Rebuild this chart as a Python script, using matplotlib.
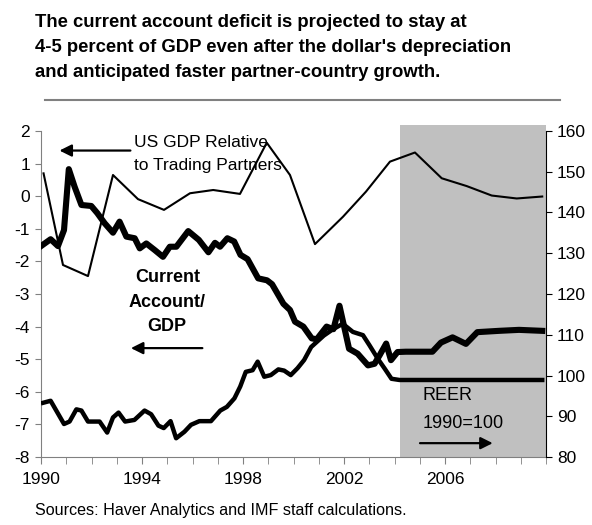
import numpy as np
import matplotlib
matplotlib.use("Agg")
import matplotlib.pyplot as plt
from matplotlib.patches import Rectangle

plt.rcParams['font.family'] = ['Liberation Sans', 'DejaVu Sans']
plt.rcParams['axes.unicode_minus'] = False

# 1. Data
# Current account / GDP (percent, left axis), quarterly-ish
ca_years = [1990.0, 1990.38, 1990.67, 1990.91, 1991.1, 1991.33, 1991.6, 1991.99,
            1992.23, 1992.52, 1992.85, 1993.11, 1993.38, 1993.71, 1993.91, 1994.17,
            1994.5, 1994.83, 1995.1, 1995.36, 1995.83, 1996.25, 1996.63, 1996.89,
            1997.09, 1997.38, 1997.65, 1997.9, 1998.18, 1998.6, 1998.95, 1999.15,
            1999.6, 1999.86, 2000.06, 2000.39, 2000.72, 2000.92, 2001.31, 2001.58,
            2001.82, 2002.2, 2002.54, 2002.95, 2003.21, 2003.41, 2003.67, 2003.86,
            2004.12, 2004.45, 2005.5, 2005.84, 2006.3, 2006.83, 2007.28, 2008.14,
            2008.93, 2009.85]
ca_values = [-1.53, -1.32, -1.53, -1.04, 0.83, 0.29, -0.27, -0.30,
             -0.52, -0.83, -1.12, -0.78, -1.24, -1.29, -1.60, -1.45,
             -1.65, -1.86, -1.55, -1.55, -1.07, -1.34, -1.72, -1.43,
             -1.55, -1.29, -1.39, -1.80, -1.93, -2.52, -2.58, -2.70,
             -3.30, -3.49, -3.85, -4.00, -4.36, -4.39, -4.00, -4.08,
             -3.36, -4.68, -4.83, -5.19, -5.14, -4.88, -4.52, -5.03,
             -4.78, -4.77, -4.77, -4.49, -4.33, -4.53, -4.17, -4.13,
             -4.10, -4.13]

# REER, 1990=100 (right axis)
reer_years = [1990.08, 1990.38, 1990.91, 1991.13, 1991.4, 1991.6, 1991.86, 1992.32,
              1992.62, 1992.85, 1993.07, 1993.33, 1993.7, 1994.1, 1994.36, 1994.65,
              1994.86, 1995.13, 1995.35, 1995.68, 1995.94, 1996.27, 1996.73, 1997.1,
              1997.36, 1997.66, 1997.89, 1998.11, 1998.38, 1998.58, 1998.84, 1999.1,
              1999.4, 1999.63, 1999.89, 2000.16, 2000.42, 2000.7, 2001.2, 2001.55,
              2001.95, 2002.35, 2002.75, 2003.01, 2003.34, 2003.61, 2003.88, 2004.2,
              2009.85]
reer_values = [93.3, 93.8, 88.1, 88.7, 91.7, 91.4, 88.7, 88.7,
               86.0, 89.7, 90.9, 88.7, 89.1, 91.4, 90.5, 87.7,
               87.1, 88.8, 84.6, 86.2, 87.9, 88.8, 88.8, 91.4,
               92.3, 94.4, 97.3, 100.9, 101.3, 103.4, 99.7, 100.1,
               101.5, 101.2, 100.1, 101.8, 103.8, 107.0, 109.8, 111.3,
               112.7, 110.7, 109.9, 107.4, 104.1, 101.7, 99.2, 98.9,
               98.9]

# US GDP relative to trading partners (left axis), annual
gdp_years = [1990.1, 1990.87, 1991.86, 1992.85, 1993.84, 1994.87, 1995.9, 1996.82,
             1997.88, 1998.94, 1999.86, 2000.85, 2001.96, 2002.87, 2003.82, 2004.81,
             2005.87, 2006.86, 2007.85, 2008.84, 2009.85]
gdp_values = [0.70, -2.11, -2.45, 0.65, -0.09, -0.42, 0.09, 0.19,
              0.07, 1.64, 0.65, -1.47, -0.63, 0.14, 1.06, 1.34,
              0.55, 0.31, 0.02, -0.07, -0.01]

projection_start = 2004.2
x_ticks = [1990, 1994, 1998, 2002, 2006]
title = ("The current account deficit is projected to stay at\n"
         "4-5 percent of GDP even after the dollar's depreciation\n"
         "and anticipated faster partner-country growth.")

# 2. Figure
fig = plt.figure(figsize=(5.92, 5.25), dpi=100)
ax = fig.add_axes([0.0693, 0.1295, 0.853, 0.621])
ax2 = ax.twinx()

# projection shading (sticks up a bit past the top, like the original)
ax.add_patch(Rectangle((projection_start, 0), 2010 - projection_start, 1.018,
                       transform=ax.get_xaxis_transform(), facecolor='#c0c0c0',
                       edgecolor='none', clip_on=False, zorder=0))

ax.plot(gdp_years, gdp_values, color='black', linewidth=1.5, zorder=3)
ax.plot(ca_years, ca_values, color='black', linewidth=4.4, zorder=4,
        solid_joinstyle='round')
ax2.plot(reer_years, reer_values, color='black', linewidth=3.2, zorder=3,
         solid_joinstyle='round')

ax.set_xlim(1990, 2010)
ax.set_ylim(-8, 2)
ax2.set_ylim(80, 160)
ax.set_yticks(np.arange(-8, 3, 1))
ax2.set_yticks(np.arange(80, 161, 10))
ax.set_xticks(x_ticks)
ax.set_xticks(np.arange(1990, 2011, 1), minor=True)

for a in (ax, ax2):
    a.spines['top'].set_visible(False)
ax.spines['right'].set_visible(False)
ax.spines['left'].set_color('#808080')
ax.spines['bottom'].set_color('#808080')
ax2.spines['left'].set_visible(False)
ax2.spines['bottom'].set_visible(False)
ax2.spines['right'].set_color('black')

ax.tick_params(axis='y', direction='out', length=4, color='#808080',
               labelsize=12.5, pad=4)
ax.tick_params(axis='x', which='both', direction='out', length=5,
               color='#808080', labelsize=12.5, pad=6)
ax2.tick_params(axis='y', direction='out', length=4, labelsize=12.5, pad=4)

# 3. Annotations
ax.text(1993.7, 1.29, "US GDP Relative\nto Trading Partners", fontsize=12.5,
        ha='left', va='center', linespacing=1.65, zorder=5)
ax.annotate("", xy=(1990.62, 1.40), xytext=(1993.65, 1.40),
            arrowprops=dict(arrowstyle='-|>', color='black', lw=1.6,
                            mutation_scale=18))
ax.text(1995.0, -3.25, "Current\nAccount/\nGDP", fontsize=13,
        fontweight='bold', ha='center', va='center', linespacing=1.57, zorder=5)
ax.annotate("", xy=(1993.45, -4.66), xytext=(1996.5, -4.66),
            arrowprops=dict(arrowstyle='-|>', color='black', lw=1.6,
                            mutation_scale=18))
ax2.text(2005.1, 95.2, "REER", fontsize=13, ha='left', va='center')
ax2.text(2005.1, 88.3, "1990=100", fontsize=13, ha='left', va='center')
ax2.annotate("", xy=(2008.0, 83.4), xytext=(2004.9, 83.4),
             arrowprops=dict(arrowstyle='-|>', color='black', lw=1.6,
                             mutation_scale=18))

# title, rule and source
fig.text(35 / 592, 1 - 14 / 525, title, fontsize=13.3, fontweight='bold',
         ha='left', va='top', linespacing=1.62)
fig.add_artist(plt.Line2D([45 / 592, 560 / 592], [1 - 100 / 525, 1 - 100 / 525],
                          color='#808080', linewidth=1.5))
fig.text(35 / 592, 1 - 510 / 525, "Sources: Haver Analytics and IMF staff calculations.",
         fontsize=11.6, ha='left', va='center')

fig.savefig("out.png", dpi=100)
